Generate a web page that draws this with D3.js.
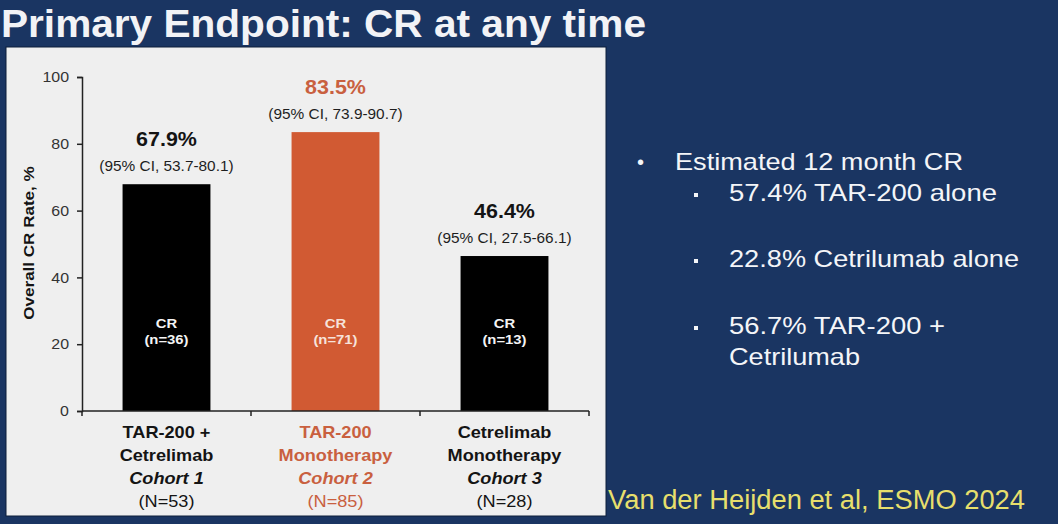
<!DOCTYPE html>
<html>
<head>
<meta charset="utf-8">
<script src="https://cdn.jsdelivr.net/npm/d3@7"></script>
<style>
  html, body { margin: 0; padding: 0; background: #1a3562; }
  svg { display: block; font-family: "Liberation Sans", Arial, sans-serif; }
</style>
</head>
<body>
<svg id="chart" width="1058" height="524"></svg>
<script>
// Chart data
const cohorts = ['Cohort 1', 'Cohort 2', 'Cohort 3'];
const crRates = [67.9, 83.5, 46.4];
const ciLabels = ['(95% CI, 53.7-80.1)', '(95% CI, 73.9-90.7)', '(95% CI, 27.5-66.1)'];
const crCounts = [36, 71, 13];
const armLines = [
  ['TAR-200 +', 'Cetrelimab'],
  ['TAR-200', 'Monotherapy'],
  ['Cetrelimab', 'Monotherapy']
];
const cohortN = [53, 85, 28];
const highlight = [false, true, false];
const yTicks = [0, 20, 40, 60, 80, 100];

// Right-hand notes
const mainBullet = 'Estimated 12 month CR';
const subBullets = [
  ['57.4% TAR-200 alone'],
  ['22.8% Cetrilumab alone'],
  ['56.7% TAR-200 +', 'Cetrilumab']
];
const titleText = 'Primary Endpoint: CR at any time';
const citation = 'Van der Heijden et al, ESMO 2024';

const NAVY = '#1a3562';
const ORANGE = '#d15a33';
const ORANGE_TEXT = '#c9603f';
const INK = '#141414';
// slide fonts render a bit wider than Liberation Sans
const SX = 1.1;

const svg = d3.select('#chart');

svg.append('rect')
  .attr('width', 1058).attr('height', 524)
  .attr('fill', NAVY);

// Title
svg.append('text')
  .attr('x', 1).attr('y', 37)
  .attr('font-size', 39).attr('font-weight', 700)
  .attr('fill', '#f2f3f6')
  .attr('textLength', 645).attr('lengthAdjust', 'spacingAndGlyphs')
  .text(titleText);

// White chart panel
svg.append('rect')
  .attr('x', 6).attr('y', 47).attr('width', 600).attr('height', 469)
  .attr('fill', '#efefef')
  .attr('stroke', '#0d1e3a').attr('stroke-width', 1);

const y = d3.scaleLinear().domain([0, 100]).range([411, 77]);
const x = d3.scaleBand().domain(cohorts).range([82, 589])
  .paddingInner(0.48).paddingOuter(0.24);

const plot = svg.append('g');

// helper: horizontally widened text anchored at (px, py)
function label(parent, px, py, txt, size, weight, fill, opts = {}) {
  return parent.append('text')
    .attr('transform', `translate(${px},${py}) scale(${SX},1)`)
    .attr('text-anchor', opts.anchor || 'middle')
    .attr('font-size', size)
    .attr('font-weight', weight)
    .attr('font-style', opts.italic ? 'italic' : null)
    .attr('fill', fill)
    .text(txt);
}

// Bars
const rows = cohorts.map((c, i) => ({
  cohort: c, rate: crRates[i], ci: ciLabels[i], n: crCounts[i],
  arm: armLines[i], total: cohortN[i], hi: highlight[i]
}));

plot.selectAll('rect.bar')
  .data(rows)
  .join('rect')
    .attr('class', 'bar')
    .attr('x', d => x(d.cohort))
    .attr('y', d => y(d.rate))
    .attr('width', x.bandwidth())
    .attr('height', d => y(0) - y(d.rate))
    .attr('fill', d => d.hi ? ORANGE : '#000');

// Y axis
const yAxis = plot.append('g')
  .attr('transform', `translate(${x.range()[0]},0)`)
  .call(d3.axisLeft(y).tickValues(yTicks).tickSize(5).tickPadding(8));
yAxis.select('.domain').attr('stroke', '#222').attr('stroke-width', 1.5);
yAxis.selectAll('.tick line').attr('stroke', '#222').attr('stroke-width', 1.5);
yAxis.selectAll('.tick text')
  .attr('font-size', 14.5).attr('fill', '#333')
  .attr('font-family', '"Liberation Sans", Arial, sans-serif')
  .attr('transform', `scale(${SX},1)`)
  .attr('x', -13 / SX);

// X axis with ticks at the band edges
const x0 = x.range()[0], x1 = x.range()[1];
plot.append('line')
  .attr('x1', x0).attr('x2', x1).attr('y1', y(0)).attr('y2', y(0))
  .attr('stroke', '#222').attr('stroke-width', 1.5);
plot.selectAll('line.xtick')
  .data(d3.range(cohorts.length + 1))
  .join('line')
    .attr('class', 'xtick')
    .attr('x1', i => x0 + i * x.step()).attr('x2', i => x0 + i * x.step())
    .attr('y1', y(0)).attr('y2', y(0) + 5)
    .attr('stroke', '#222').attr('stroke-width', 1.5);

// Y axis title
plot.append('text')
  .attr('transform', `translate(34,243) rotate(-90) scale(${SX},1)`)
  .attr('text-anchor', 'middle')
  .attr('font-size', 15.5).attr('font-weight', 700).attr('fill', INK)
  .text('Overall CR Rate, %');

// Labels per bar
rows.forEach(d => {
  const cx = x(d.cohort) + x.bandwidth() / 2;
  const top = y(d.rate);
  const col = d.hi ? ORANGE_TEXT : INK;
  label(plot, cx, top - 38, d.rate.toFixed(1) + '%', 19.5, 700, col);
  label(plot, cx, top - 13, d.ci, 14, 400, '#1e1e1e');
  label(plot, cx, y(25), 'CR', 13.5, 700, d.hi ? '#f6e2da' : '#f4f4f4');
  label(plot, cx, y(25) + 16, `(n=${d.n})`, 13.5, 700, d.hi ? '#f6e2da' : '#f4f4f4');

  const lines = [d.arm[0], d.arm[1], d.cohort, `(N=${d.total})`];
  lines.forEach((t, k) => {
    label(plot, cx, 438 + k * 23, t, 16.5, k === 3 ? 400 : 700, col, {italic: k === 2});
  });
});

// Right-hand bullet notes
const notes = svg.append('g').attr('fill', '#f4f5f8');
notes.append('text')
  .attr('x', 637).attr('y', 169).attr('font-size', 20).text('•');
notes.append('text')
  .attr('x', 675).attr('y', 170).attr('font-size', 24)
  .attr('textLength', 288).attr('lengthAdjust', 'spacingAndGlyphs')
  .text(mainBullet);

const subY = [201, 267, 334];
const subW = [[268], [290], [216, 131]];
subBullets.forEach((lines, i) => {
  notes.append('rect')
    .attr('x', 694).attr('y', subY[i] - 8).attr('width', 4).attr('height', 4);
  lines.forEach((t, k) => {
    notes.append('text')
      .attr('x', 729).attr('y', subY[i] + k * 31).attr('font-size', 24)
      .attr('textLength', subW[i][k]).attr('lengthAdjust', 'spacingAndGlyphs')
      .text(t);
  });
});

// Citation
svg.append('text')
  .attr('x', 608).attr('y', 509)
  .attr('font-size', 27).attr('fill', '#e7df6c')
  .attr('textLength', 417).attr('lengthAdjust', 'spacingAndGlyphs')
  .text(citation);
</script>
</body>
</html>
